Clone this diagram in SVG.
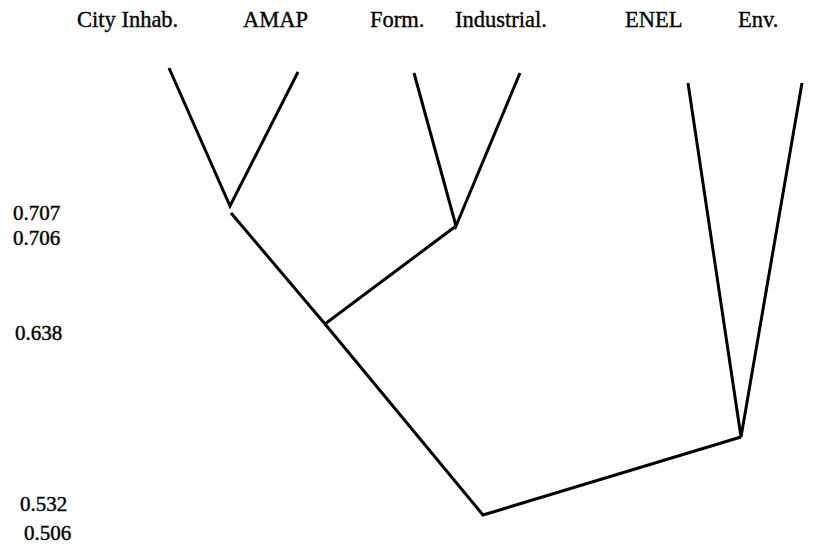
<svg xmlns="http://www.w3.org/2000/svg" width="815" height="547" viewBox="0 0 815 547">
<style>
.lbl{font-family:"Liberation Serif","Times New Roman",serif;font-size:22.5px;fill:#000;stroke:#000;stroke-width:0.35}
.num{font-family:"Liberation Serif","Times New Roman",serif;font-size:21px;fill:#000;stroke:#000;stroke-width:0.4}
.e{fill:none;stroke:#000;stroke-width:3;stroke-linecap:butt;stroke-linejoin:miter}
</style>
<rect width="815" height="547" fill="#fff"/>
<g id="labels">
<text class="lbl" x="77" y="27">City Inhab.</text>
<text class="lbl" x="243" y="27">AMAP</text>
<text class="lbl" x="370" y="27">Form.</text>
<text class="lbl" x="455" y="27">Industrial.</text>
<text class="lbl" x="625" y="27">ENEL</text>
<text class="lbl" x="738" y="27">Env.</text>
</g>
<g id="scale">
<text class="num" x="13" y="220">0.707</text>
<text class="num" x="13" y="245">0.706</text>
<text class="num" x="15" y="340">0.638</text>
<text class="num" x="20" y="511">0.532</text>
<text class="num" x="24" y="540">0.506</text>
</g>
<g id="connectors">
<polyline class="e" points="169,68 230,206 298,72"/>
<polyline class="e" points="414,73 456,226 520,73"/>
<polyline class="e" points="688,83 741,437 802,83"/>
<polyline class="e" points="231,213 325,324 456,226"/>
<polyline class="e" points="325,324 483,515 741,437"/>
</g>
</svg>
